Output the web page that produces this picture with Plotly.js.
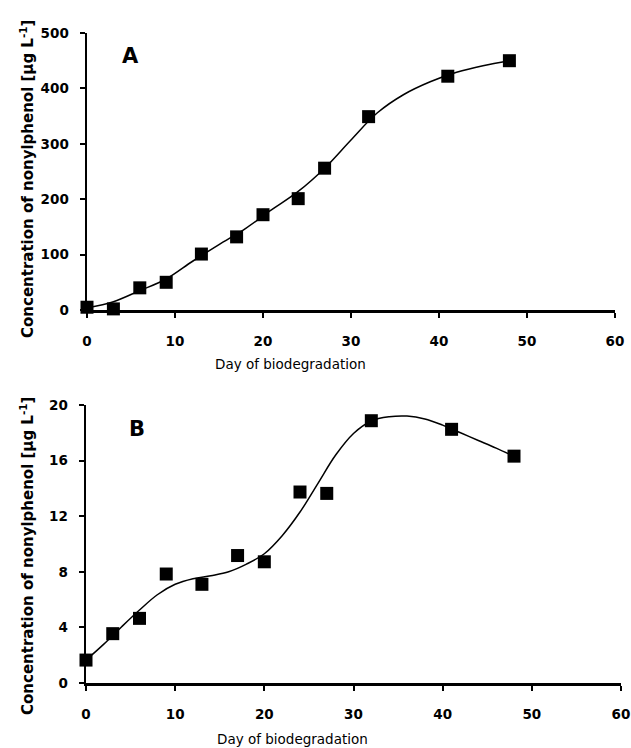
<!DOCTYPE html>
<html>
<head>
<meta charset="utf-8">
<script src="https://cdn.plot.ly/plotly-3.0.1.min.js"></script>
<style>html,body{margin:0;padding:0;background:#fff;}#chart{width:631px;height:748px;}</style>
</head>
<body>
<div id="chart"></div>
<script>
// Panel A data (measured points)
const dayA = [0, 3, 6, 9, 13, 17, 20, 24, 27, 32, 41, 48];
const concA = [5, 2, 40, 50, 101, 132, 172, 201, 256, 349, 422, 450];
// Panel A fitted curve
const curveDayA = [0, 3, 6, 9, 12, 15, 18, 21, 24, 27, 30, 33, 36, 39, 42, 45, 48];
const curveA = [4, 15, 35, 56, 88, 118, 147, 181, 214, 256, 307, 356, 389, 412, 429, 441, 450];

// Panel B data (measured points)
const dayB = [0, 3, 6, 9, 13, 17, 20, 24, 27, 32, 41, 48];
const concB = [1.65, 3.55, 4.65, 7.84, 7.1, 9.17, 8.72, 13.74, 13.64, 18.87, 18.25, 16.32];
// Panel B fitted curve
const curveDayB = [0, 2, 4, 6, 8, 10, 12, 14, 16, 18, 20, 22, 24, 26, 28, 30, 32, 34, 36, 38, 40, 42, 44, 46, 48];
const curveB = [1.65, 2.8, 4.05, 5.25, 6.35, 7.1, 7.5, 7.72, 8.0, 8.55, 9.3, 10.6, 12.3, 14.35, 16.4, 17.95, 18.85, 19.15, 19.2, 19.0, 18.55, 18.0, 17.45, 16.9, 16.3];

const xTicks = [0, 10, 20, 30, 40, 50, 60];
const yTicksA = [0, 100, 200, 300, 400, 500];
const yTicksB = [0, 4, 8, 12, 16, 20];

const yTitle = 'Concentration of nonylphenol [µg L<sup>-1</sup>]';
const xTitle = 'Day of biodegradation';

const FONT = 'DejaVu Sans, sans-serif';
const tickFont = {family: FONT, size: 13.5, color: '#000', weight: 'bold'};

const lineStyle = {color: '#000', width: 1.5, shape: 'spline', smoothing: 1};
const markerStyle = {symbol: 'square', size: 13, color: '#000'};

const traces = [
  {x: curveDayA, y: curveA, mode: 'lines', line: lineStyle, xaxis: 'x', yaxis: 'y', hoverinfo: 'skip', cliponaxis: false},
  {x: dayA, y: concA, mode: 'markers', marker: markerStyle, xaxis: 'x', yaxis: 'y', cliponaxis: false},
  {x: curveDayB, y: curveB, mode: 'lines', line: lineStyle, xaxis: 'x2', yaxis: 'y2', hoverinfo: 'skip', cliponaxis: false},
  {x: dayB, y: concB, mode: 'markers', marker: markerStyle, xaxis: 'x2', yaxis: 'y2', cliponaxis: false}
];

function xAxis(domain, anchor) {
  return {
    domain: domain, anchor: anchor, range: [0, 60], tickvals: xTicks,
    showline: true, linewidth: 2.5, linecolor: '#000',
    ticks: 'outside', ticklen: 5, tickwidth: 2, tickcolor: '#000',
    showgrid: false, zeroline: false, tickfont: tickFont, ticklabelstandoff: 12,
    ticklabeloverflow: 'allow', fixedrange: true
  };
}
function yAxis(domain, anchor, range, vals) {
  return {
    domain: domain, anchor: anchor, range: range, tickvals: vals,
    showline: true, linewidth: 2.5, linecolor: '#000',
    ticks: 'outside', ticklen: 5, tickwidth: 2, tickcolor: '#000',
    showgrid: false, zeroline: false, tickfont: tickFont, ticklabelstandoff: 8,
    ticklabeloverflow: 'allow', fixedrange: true
  };
}

const W = 631, H = 748;
const layout = {
  width: W, height: H,
  margin: {l: 0, r: 0, t: 0, b: 0},
  paper_bgcolor: '#fff', plot_bgcolor: '#fff',
  showlegend: false,
  xaxis: xAxis([87 / W, 615 / W], 'y'),
  yaxis: yAxis([(H - 310) / H, (H - 33) / H], 'x', [0, 500], yTicksA),
  xaxis2: xAxis([86 / W, 621 / W], 'y2'),
  yaxis2: yAxis([(H - 683) / H, (H - 405) / H], 'x2', [0, 20], yTicksB),
  annotations: [
    {text: 'A', xref: 'paper', yref: 'paper', x: 130 / W, y: (H - 56) / H, showarrow: false,
     xanchor: 'center', yanchor: 'middle', font: {family: FONT, size: 21, color: '#000', weight: 'bold'}},
    {text: 'B', xref: 'paper', yref: 'paper', x: 137 / W, y: (H - 429) / H, showarrow: false,
     xanchor: 'center', yanchor: 'middle', font: {family: FONT, size: 21, color: '#000', weight: 'bold'}},
    {text: xTitle, xref: 'paper', yref: 'paper', x: 290 / W, y: (H - 364) / H, showarrow: false,
     xanchor: 'center', yanchor: 'middle', font: {family: FONT, size: 13.5, color: '#000'}},
    {text: xTitle, xref: 'paper', yref: 'paper', x: 292 / W, y: (H - 739) / H, showarrow: false,
     xanchor: 'center', yanchor: 'middle', font: {family: FONT, size: 13.5, color: '#000'}},
    {text: yTitle, xref: 'paper', yref: 'paper', x: 27 / W, y: (H - 179) / H, showarrow: false, textangle: -90,
     xanchor: 'center', yanchor: 'middle', font: {family: FONT, size: 15, color: '#000', weight: 'bold'}},
    {text: yTitle, xref: 'paper', yref: 'paper', x: 27 / W, y: (H - 556) / H, showarrow: false, textangle: -90,
     xanchor: 'center', yanchor: 'middle', font: {family: FONT, size: 15, color: '#000', weight: 'bold'}}
  ]
};

Plotly.newPlot('chart', traces, layout, {displayModeBar: false, staticPlot: true});
</script>
</body>
</html>
